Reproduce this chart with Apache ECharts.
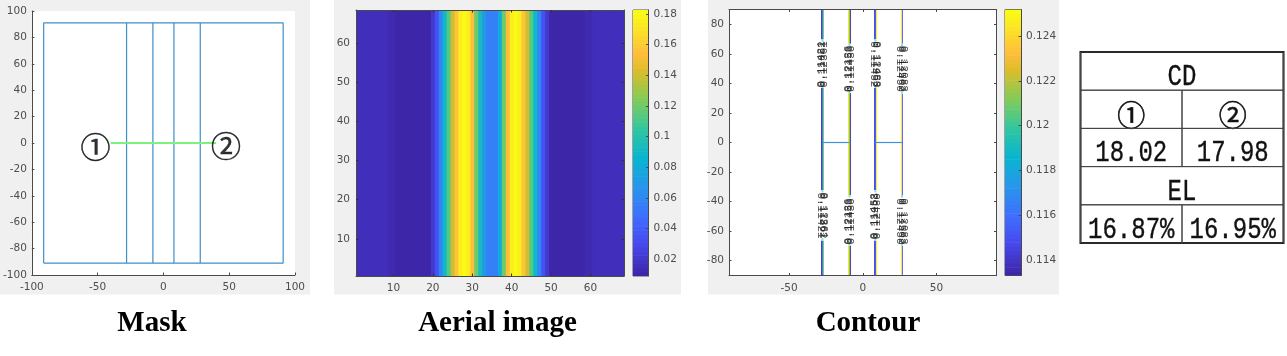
<!DOCTYPE html>
<html>
<head>
<meta charset="utf-8">
<title>Mask / Aerial image / Contour</title>
<style>
html, body { margin: 0; padding: 0; background: #fff; }
#chart { width: 1287px; height: 356px; }
</style>
<script src="https://cdn.jsdelivr.net/npm/echarts@6/dist/echarts.min.js"></script>
</head>
<body>
<div id="chart"></div>
<script>
// 数据
var panelTitles = ['Mask', 'Aerial image', 'Contour'];

var maskTicksX = [-100, -50, 0, 50, 100];
var maskOutline = [[-91, -91], [91, -91], [91, 91], [-91, 91], [-91, -91]];
var maskEdges = [-28, -8, 8, 28];
var maskCut = [[-40, 0], [40, 0]];
var maskMarks = [['①', -51.7, -3], ['②', 47.5, -2]];

// 光强剖面，共68列
var aerialProfile = [
  0.0146, 0.0146, 0.0146, 0.0146, 0.0146, 0.0146, 0.0146, 0.0146, 0.012, 0.012,
  0.0098, 0.0098, 0.0098, 0.0098, 0.0098, 0.0098, 0.0098, 0.0098, 0.0098, 0.02,
  0.034, 0.058, 0.09, 0.113, 0.14, 0.158, 0.177, 0.182, 0.177, 0.155,
  0.118, 0.095, 0.07, 0.056, 0.056, 0.056, 0.08, 0.118, 0.155, 0.177,
  0.182, 0.177, 0.158, 0.14, 0.113, 0.09, 0.058, 0.034, 0.02, 0.0098,
  0.0098, 0.0098, 0.0098, 0.0098, 0.0098, 0.0098, 0.0098, 0.0098, 0.012, 0.012,
  0.0146, 0.0146, 0.0146, 0.0146, 0.0146, 0.0146, 0.0146, 0.0146
];
var aerialTicks = [10, 20, 30, 40, 50, 60];
var aerialRange = [0.0091, 0.1826];
var aerialBarTicks = [0.02, 0.04, 0.06, 0.08, 0.1, 0.12, 0.14, 0.16, 0.18];

var contourRange = [0.1133, 0.12519];
var contourBarTicks = [0.114, 0.116, 0.118, 0.12, 0.122, 0.124];
var contourTicksX = [-50, 0, 50];
var contourTicksY = [-80, -60, -40, -20, 0, 20, 40, 60, 80];
var contourTraceStripe = [0, 0, 0, 1, 1, 1, 2, 2, 2, 3, 3];
var contourTraceX = [-27.97, -27.29, -26.61, -9.66, -8.98, -8.30, 8.0, 8.66, 9.34, 26.28, 26.96];
var contourTraceLevel = [0.1142, 0.1165, 0.1215, 0.1245, 0.1215, 0.1145, 0.1145, 0.1155, 0.1248, 0.1245, 0.1150];
var contourGapUpper = [[37, 70], [33.5, 67], [37, 70], [33, 67]];
var contourGapLower = [[-66.6, -32.3], [-70, -35.7], [-66.6, -32.3], [-70, -35.7]];
var contourLinks = [[[-27.2, 0], [-9.3, 0]], [[8.4, 0], [26.7, 0]]];
var contourLabelX = [-27.3, -9.0, 8.6, 26.6];
var contourLabelUpperY = [53, 50, 53, 50];
var contourLabelLowerY = [-49.5, -53.5, -50, -53.5];
var contourLabelUpperRot = [90, 90, -90, -90];
var contourLabelLowerRot = [-90, 90, 90, -90];
var contourLabelText = [
  ['0.11421', '0.11862', '0.12361'],
  ['0.12126', '0.12453', '0.11436'],
  ['0.11452', '0.11953', '0.12480'],
  ['0.12450', '0.11502', '0.12083']
];

var tableCdMarks = ['①', '②'];
var tableCd = ['18.02', '17.98'];
var tableEl = ['16.87%', '16.95%'];

// parula 色带
var parulaStops = [
  [0, '#3e26a8'], [7, '#4747eb'], [14, '#3e6fff'], [21, '#2796eb'], [28, '#08b5d0'],
  [35, '#31c69f'], [42, '#81cc59'], [49, '#dcbd29'], [53, '#febe3c'], [63, '#f9fb15']
];
function hexRgb(h) {
  return [parseInt(h.substr(1, 2), 16), parseInt(h.substr(3, 2), 16), parseInt(h.substr(5, 2), 16)];
}
var parula = [];
for (var i = 0; i < 64; i++) {
  var s = 0;
  while (s < parulaStops.length - 2 && parulaStops[s + 1][0] <= i) s++;
  var a = parulaStops[s], b = parulaStops[s + 1];
  var t = (i - a[0]) / (b[0] - a[0]);
  var ca = hexRgb(a[1]), cb = hexRgb(b[1]);
  parula.push('rgb(' + [0, 1, 2].map(function (k) { return Math.round(ca[k] + (cb[k] - ca[k]) * t); }).join(',') + ')');
}
function levelColor(v, range) {
  var n = Math.round((v - range[0]) / (range[1] - range[0]) * 63);
  return parula[Math.max(0, Math.min(63, n))];
}

var LABEL = { color: '#4d4d4d', fontFamily: 'DejaVu Sans', fontSize: 10.5 };
var AXIS_LINE = { show: true, onZero: false, lineStyle: { color: '#4a4a4a', width: 1 } };

var grids = [], xAxes = [], yAxes = [], series = [];

function addGrid(left, top, width, height, bg, border) {
  grids.push({ left: left, top: top, width: width, height: height, show: true,
    backgroundColor: bg, borderColor: border || 'transparent', borderWidth: border ? 1 : 0 });
  return grids.length - 1;
}

function valueAxis(list, g, pos, range, ticks, showLabel, margin) {
  list.push({
    type: 'value', gridIndex: g, position: pos, min: range[0], max: range[1], scale: true, z: 10,
    splitLine: { show: false },
    axisLine: AXIS_LINE,
    axisTick: { show: true, inside: true, length: 2.5, customValues: ticks, lineStyle: { color: '#4a4a4a' } },
    axisLabel: Object.assign({ show: showLabel, customValues: ticks, margin: margin || 7, hideOverlap: false,
      showMinLabel: true, showMaxLabel: true }, LABEL)
  });
  return list.length - 1;
}

function hiddenAxis(list, g, range) {
  list.push({ type: 'value', gridIndex: g, min: range[0], max: range[1], show: false, splitLine: { show: false } });
  return list.length - 1;
}

function categoryAxis(list, g, pos, cats, ticks, showLabel) {
  var hit = function (idx, val) { return ticks.indexOf(+val) >= 0; };
  list.push({
    type: 'category', gridIndex: g, position: pos, data: cats, z: 10,
    axisLine: AXIS_LINE, splitLine: { show: false },
    axisTick: { show: true, inside: true, length: 2.5, alignWithLabel: true, interval: hit, lineStyle: { color: '#333' } },
    axisLabel: Object.assign({ show: showLabel, interval: hit, margin: 7 }, LABEL)
  });
  return list.length - 1;
}

// Mask
var gMask = addGrid(31, 11, 264, 264, '#fff');
var maskTicksY = [];
for (var m = 100; m >= -100; m -= 20) maskTicksY.push(m);
var xMask = valueAxis(xAxes, gMask, 'bottom', [-100, 100], maskTicksX, true);
var yMask = valueAxis(yAxes, gMask, 'left', [-100, 100], maskTicksY, true, 5);
function maskLine(points, color, width) {
  series.push({ type: 'line', xAxisIndex: xMask, yAxisIndex: yMask, data: points, symbol: 'none', silent: true,
    lineStyle: { color: color, width: width } });
}
maskLine(maskOutline, '#3d8fc8', 1.2);
maskEdges.forEach(function (x) { maskLine([[x, -91], [x, 91]], '#3d8fc8', 1.2); });
maskLine(maskCut, '#7cf27c', 2);
series.push({
  type: 'scatter', xAxisIndex: xMask, yAxisIndex: yMask, symbolSize: 0, z: 5, silent: true,
  data: maskMarks.map(function (d) { return { value: [d[1], d[2]], name: d[0] }; }),
  label: { show: true, position: 'inside', formatter: '{b}', color: '#000', fontFamily: 'Noto Sans CJK SC', fontSize: 30,
    textBorderColor: '#000', textBorderWidth: 0.5 }
});

// Aerial image，每列画成整条竖带
var aerialCats = aerialProfile.map(function (v, idx) { return String(idx + 1); });
var gAerial = addGrid(356, 10, 268, 266, '#fff');
var xAerial = categoryAxis(xAxes, gAerial, 'bottom', aerialCats, aerialTicks, true);
var yAerial = categoryAxis(yAxes, gAerial, 'left', aerialCats, aerialTicks, true);
yAxes[yAerial].axisLabel.margin = 6;
categoryAxis(xAxes, gAerial, 'top', aerialCats, aerialTicks, false);
categoryAxis(yAxes, gAerial, 'right', aerialCats, aerialTicks, false);
series.push({
  type: 'custom', xAxisIndex: xAerial, yAxisIndex: yAerial, silent: true, clip: true, z: 1,
  data: aerialProfile.map(function (v, col) { return [col, v]; }),
  encode: { x: 0 },
  renderItem: function (params, api) {
    var col = api.value(0);
    var low = api.coord([col, 0]), high = api.coord([col, aerialCats.length - 1]);
    var size = api.size([1, 1]);
    return { type: 'rect', shape: { x: low[0] - size[0] / 2, y: high[1] - size[1] / 2,
      width: size[0] + 1, height: low[1] - high[1] + size[1] },
      style: { fill: levelColor(api.value(1), aerialRange) } };
  }
});

function addColorbar(left, top, width, height, range, ticks) {
  var g = addGrid(left, top, width, height, '#fff', '#555');
  var x = hiddenAxis(xAxes, g, [0, 1]);
  var y = valueAxis(yAxes, g, 'right', range, ticks, true, 5);
  var bands = parula.map(function (c, idx) {
    return [range[0] + (range[1] - range[0]) * idx / 64, range[0] + (range[1] - range[0]) * (idx + 1) / 64, idx];
  });
  series.push({
    type: 'custom', xAxisIndex: x, yAxisIndex: y, data: bands, silent: true, clip: true,
    encode: { y: [0, 1] },
    renderItem: function (params, api) {
      var p0 = api.coord([0, api.value(0)]);
      var p1 = api.coord([1, api.value(1)]);
      return { type: 'rect', shape: { x: p0[0], y: p1[1], width: p1[0] - p0[0], height: p0[1] - p1[1] + 0.6 },
        style: { fill: parula[api.value(2)] } };
    }
  });
}
addColorbar(633, 10, 15.5, 266, aerialRange, aerialBarTicks);

// Contour
var gContour = addGrid(729, 9.5, 267.5, 266, '#fff');
var contourXRange = [-90.7, 90.7], contourYRange = [-90.2, 90.2];
var xContour = valueAxis(xAxes, gContour, 'bottom', contourXRange, contourTicksX, true);
var yContour = valueAxis(yAxes, gContour, 'left', contourYRange, contourTicksY, true, 5);
valueAxis(xAxes, gContour, 'top', contourXRange, contourTicksX, false);
valueAxis(yAxes, gContour, 'right', contourYRange, contourTicksY, false);
contourTraceX.forEach(function (x, idx) {
  var st = contourTraceStripe[idx], up = contourGapUpper[st], lo = contourGapLower[st];
  series.push({
    type: 'line', xAxisIndex: xContour, yAxisIndex: yContour, symbol: 'none', silent: true, connectNulls: false,
    data: [[x, 90.2], [x, up[1]], [null, null], [x, up[0]], [x, lo[1]], [null, null], [x, lo[0]], [x, -90.2]],
    lineStyle: { color: levelColor(contourTraceLevel[idx], contourRange), width: 1, opacity: st === 3 ? 0.85 : 1 }
  });
});
// 标注缺口两端的浅青色短线
contourLabelX.forEach(function (x, st) {
  var up = contourGapUpper[st], lo = contourGapLower[st];
  [[up[1], up[1] - 1.6], [up[0], up[0] + 1.6], [lo[1], lo[1] - 1.6], [lo[0], lo[0] + 1.6]].forEach(function (e) {
    series.push({ type: 'line', xAxisIndex: xContour, yAxisIndex: yContour, symbol: 'none', silent: true,
      data: [[x, e[0]], [x, e[1]]], lineStyle: { color: '#7fe3e6', width: 2 } });
  });
});
contourLinks.forEach(function (seg) {
  series.push({ type: 'line', xAxisIndex: xContour, yAxisIndex: yContour, symbol: 'none', silent: true, data: seg,
    lineStyle: { color: '#3c94e0', width: 1.2 } });
});
var contourLabels = [];
contourLabelX.forEach(function (x, st) {
  contourLabelText[st].forEach(function (txt, n) {
    // 同一处的几个标注互相错开一点，叠在一起
    var lx = x + (n - 1) * 1.1;
    contourLabels.push({ value: [lx, contourLabelUpperY[st]], name: txt, label: { rotate: contourLabelUpperRot[st] } });
    contourLabels.push({ value: [lx, contourLabelLowerY[st]], name: txt, label: { rotate: contourLabelLowerRot[st] } });
  });
});
series.push({
  type: 'scatter', xAxisIndex: xContour, yAxisIndex: yContour, symbolSize: 0, silent: true, data: contourLabels, z: 5,
  labelLayout: { hideOverlap: false },
  label: { show: true, position: 'inside', formatter: '{b}', color: '#222', fontFamily: 'Liberation Mono', fontSize: 11 }
});
addColorbar(1005, 9.5, 16, 266, contourRange, contourBarTicks);

// 表格
var gTable = addGrid(1080.5, 52, 203, 191, '#fff', '#111');
grids[gTable].borderWidth = 2;
var xTable = hiddenAxis(xAxes, gTable, [0, 2]);
var yTable = hiddenAxis(yAxes, gTable, [0, 5]);
var tableCells = [
  [0, 2, 4, 'CD'],
  [0, 1, 3, tableCdMarks[0]], [1, 2, 3, tableCdMarks[1]],
  [0, 1, 2, tableCd[0]], [1, 2, 2, tableCd[1]],
  [0, 2, 1, 'EL'],
  [0, 1, 0, tableEl[0]], [1, 2, 0, tableEl[1]]
];
series.push({
  type: 'custom', xAxisIndex: xTable, yAxisIndex: yTable, silent: true, z: 3,
  data: tableCells.map(function (c) { return { value: [c[0], c[1], c[2]], text: c[3] }; }),
  renderItem: function (params, api) {
    var text = tableCells[params.dataIndex][3];
    var p0 = api.coord([api.value(0), api.value(2) + 1]);
    var p1 = api.coord([api.value(1), api.value(2)]);
    var mark = text === '①' || text === '②';
    return { type: 'group', children: [
      { type: 'rect', shape: { x: p0[0], y: p0[1], width: p1[0] - p0[0], height: p1[1] - p0[1] },
        style: { fill: 'none', stroke: '#444', lineWidth: 1 } },
      { type: 'text', x: (p0[0] + p1[0]) / 2, y: (p0[1] + p1[1]) / 2 + 6, scaleY: mark ? 1 : 1.25,
        style: { text: text, x: 0, y: 0, align: 'center', verticalAlign: 'middle', fill: '#111',
          stroke: '#111', lineWidth: mark ? 0.6 : 0.3,
          font: mark ? '28px "Noto Sans CJK SC"' : '24px "Liberation Mono"' } }
    ] };
  }
});

var titleX = [152, 497.5, 868];
var option = {
  animation: false,
  backgroundColor: '#fff',
  title: panelTitles.map(function (t, idx) {
    return { text: t, left: titleX[idx], top: 309, textAlign: 'center', padding: 0,
      textStyle: { fontFamily: 'Liberation Serif', fontWeight: 'bold', fontSize: 29, color: '#000' } };
  }),
  graphic: [
    [0, 310], [334, 347], [708, 351]
  ].map(function (r) {
    return { type: 'rect', z: -10, silent: true, shape: { x: r[0], y: 0, width: r[1], height: 294.5 }, style: { fill: '#f0f0f0' } };
  }),
  grid: grids,
  xAxis: xAxes,
  yAxis: yAxes,
  series: series
};

var myChart = echarts.init(document.getElementById('chart'), null, { renderer: 'canvas' });
myChart.setOption(option);
</script>
</body>
</html>
